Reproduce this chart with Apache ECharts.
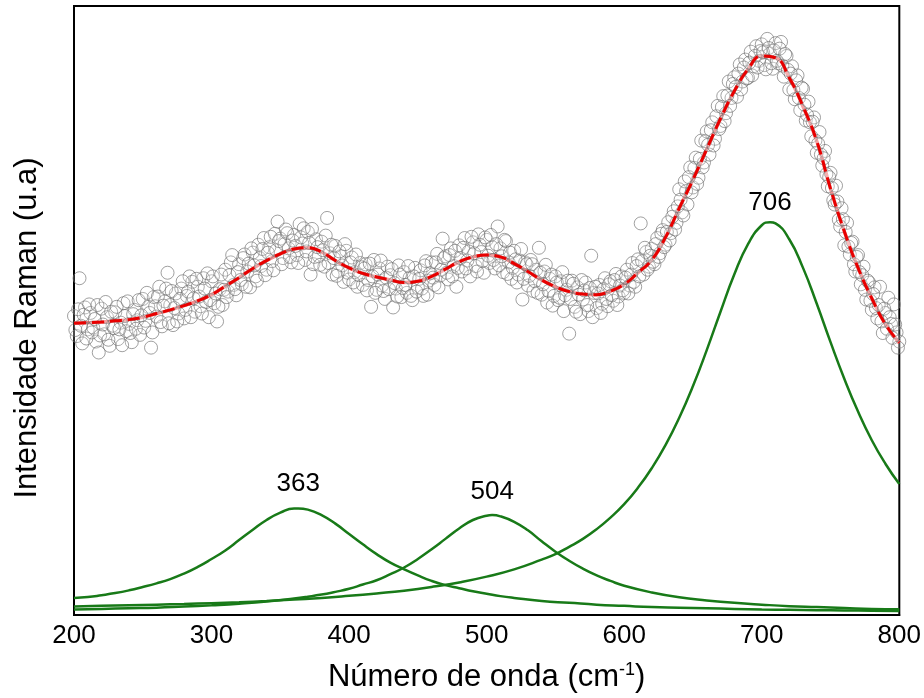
<!DOCTYPE html>
<html>
<head>
<meta charset="utf-8">
<script src="https://cdn.jsdelivr.net/npm/echarts@6/dist/echarts.min.js"></script>
<style>
  html, body { margin: 0; padding: 0; background: #fff; }
  #chart { width: 924px; height: 698px; }
</style>
</head>
<body>
<div id="chart"></div>
<script>
// espectro Raman medido (cm-1, intensidade u.a.) - pontos pares
const ramanPoints = [
  [200,49.1],[202,45.8],[204,55.3],[206,44.6],[208,50.5],[210,46.9],[212,49.6],[214,47.2],[216,44.9],[218,43.1],
  [220,50.3],[222,46.1],[224,48.9],[226,44.2],[228,47.5],[230,49.7],[232,45.3],[234,48.0],[236,51.2],[238,46.6],
  [240,47.8],[242,44.8],[244,50.1],[246,48.4],[248,46.0],[250,51.9],[252,48.3],[254,50.6],[256,43.9],[258,52.2],
  [260,49.0],[262,53.9],[264,47.4],[266,51.5],[268,56.2],[270,50.9],[272,47.6],[274,52.8],[276,49.5],[278,53.6],
  [280,48.7],[282,52.4],[284,55.6],[286,54.7],[288,49.8],[290,53.9],[292,50.7],[294,55.3],[296,51.4],[298,48.9],
  [300,54.8],[302,51.2],[304,48.2],[306,53.5],[308,50.9],[310,56.7],[312,53.1],[314,57.9],[316,54.2],[318,52.5],
  [320,57.6],[322,54.3],[324,59.2],[326,56.4],[328,53.8],[330,59.5],[332,55.6],[334,60.8],[336,57.3],[338,61.9],
  [340,56.7],[342,60.4],[344,58.1],[346,62.6],[348,64.6],[350,61.8],[352,58.6],[354,63.3],[356,60.2],[358,57.9],
  [360,62.4],[362,59.1],[364,64.2],[366,61.0],[368,58.3],[370,62.9],[372,55.9],[374,57.6],[376,61.7],[378,58.9],
  [380,61.3],[382,57.2],[384,65.2],[386,59.4],[388,55.9],[390,60.6],[392,56.4],[394,58.9],[396,54.7],[398,59.8],
  [400,55.1],[402,58.7],[404,56.3],[406,53.9],[408,57.8],[410,54.2],[412,57.6],[414,55.0],[416,50.6],[418,58.3],
  [420,53.4],[422,56.9],[424,54.1],[426,51.9],[428,57.2],[430,55.8],[432,50.5],[434,53.6],[436,57.4],[438,52.2],
  [440,56.3],[442,52.9],[444,55.4],[446,51.7],[448,57.0],[450,53.8],[452,56.6],[454,52.4],[456,58.1],[458,54.9],
  [460,57.9],[462,54.2],[464,59.3],[466,55.7],[468,61.8],[470,58.9],[472,55.1],[474,60.2],[476,57.3],[478,53.9],
  [480,60.7],[482,56.4],[484,61.9],[486,58.2],[488,55.6],[490,61.2],[492,57.3],[494,62.5],[496,59.6],[498,56.2],
  [500,61.6],[502,57.8],[504,60.4],[506,56.9],[508,63.8],[510,60.2],[512,56.3],[514,61.4],[516,57.9],[518,55.2],
  [520,59.8],[522,54.6],[524,58.2],[526,51.8],[528,57.9],[530,54.1],[532,58.3],[534,53.2],[536,56.7],[538,60.3],
  [540,52.6],[542,56.4],[544,51.3],[546,55.2],[548,50.8],[550,55.6],[552,51.7],[554,54.8],[556,49.9],[558,53.4],
  [560,46.2],[562,54.9],[564,50.6],[566,53.8],[568,49.4],[570,51.8],[572,54.6],[574,49.9],[576,59.0],[578,52.9],
  [580,50.4],[582,54.2],[584,51.1],[586,55.3],[588,50.7],[590,54.8],[592,51.6],[594,56.0],[596,52.3],[598,55.6],
  [600,52.9],[602,56.7],[604,54.1],[606,57.8],[608,53.9],[610,58.4],[612,64.3],[614,55.9],[616,59.6],[618,57.2],
  [620,60.1],[622,57.6],[624,61.9],[626,59.4],[628,63.2],[630,60.8],[632,64.5],[634,62.7],[636,66.3],[638,64.4],
  [640,69.9],[642,66.1],[644,71.2],[646,67.4],[648,73.5],[650,70.2],[652,75.1],[654,71.8],[656,77.9],[658,74.3],
  [660,79.4],[662,75.6],[664,80.9],[666,78.2],[668,83.6],[670,80.3],[672,85.2],[674,82.4],[676,87.6],[678,84.9],
  [680,88.3],[682,85.1],[684,90.4],[686,87.6],[688,91.2],[690,88.2],[692,92.5],[694,90.1],[696,93.4],[698,91.0],
  [700,93.7],[702,90.3],[704,94.6],[706,92.2],[708,89.7],[710,93.9],[712,90.6],[714,94.1],[716,88.4],[718,91.8],
  [720,86.3],[722,90.1],[724,84.7],[726,88.6],[728,82.9],[730,86.4],[732,81.2],[734,84.3],[736,78.6],[738,81.7],
  [740,75.9],[742,79.3],[744,73.8],[746,76.2],[748,70.4],[750,72.6],[752,68.1],[754,70.5],[756,64.9],[758,66.8],
  [760,60.7],[762,64.4],[764,59.2],[766,61.3],[768,56.4],[770,59.1],[772,54.3],[774,57.2],[776,51.8],[778,54.6],
  [780,50.1],[782,53.8],[784,48.7],[786,53.9],[788,46.3],[790,49.6],[792,52.1],[794,47.8],[796,51.0],[798,46.4],
  [800,44.9]
]

// pontos ímpares
const ramanPointsOdd = [
  [201,46.8],[203,50.2],[205,47.5],[207,49.3],[209,45.4],[211,51.0],[213,46.4],[215,48.6],[217,50.9],[219,45.9],
  [221,47.7],[223,51.4],[225,45.2],[227,49.8],[229,47.1],[231,50.6],[233,46.9],[235,44.3],[237,49.1],[239,51.5],
  [241,46.3],[243,49.4],[245,47.0],[247,51.7],[249,49.2],[251,47.2],[253,52.9],[255,49.6],[257,46.4],[259,50.7],
  [261,52.3],[263,48.1],[265,50.8],[267,53.6],[269,47.9],[271,53.2],[273,50.4],[275,48.2],[277,51.9],[279,54.8],
  [281,50.1],[283,53.1],[285,48.9],[287,52.0],[289,55.2],[291,52.3],[293,49.5],[295,53.6],[297,56.1],[299,51.7],
  [301,55.6],[303,52.8],[305,50.6],[307,55.9],[309,53.4],[311,52.2],[313,55.8],[315,59.1],[317,53.5],[319,56.3],
  [321,55.0],[323,58.6],[325,53.9],[327,57.7],[329,60.2],[331,57.4],[333,54.9],[335,58.6],[337,60.1],[339,55.8],
  [341,59.5],[343,62.1],[345,56.6],[347,59.9],[349,61.4],[351,57.6],[353,60.9],[355,62.7],[357,58.8],[359,61.5],
  [361,60.6],[363,57.8],[365,62.0],[367,63.5],[369,59.7],[371,61.1],[373,63.4],[375,58.8],[377,60.4],[379,57.5],
  [381,59.9],[383,62.3],[385,57.8],[387,60.8],[389,58.6],[391,55.7],[393,59.7],[395,57.4],[397,60.9],[399,56.2],
  [401,57.9],[403,54.6],[405,59.2],[407,55.8],[409,57.1],[411,56.9],[413,53.3],[415,57.7],[417,55.6],[419,52.9],
  [421,55.9],[423,58.2],[425,53.2],[427,55.4],[429,53.5],[431,56.8],[433,54.5],[435,52.3],[437,55.9],[439,53.7],
  [441,54.2],[443,57.3],[445,52.4],[447,55.6],[449,53.1],[451,55.2],[453,53.6],[455,57.4],[457,52.6],[459,56.1],
  [461,55.4],[463,57.9],[465,53.8],[467,56.7],[469,58.6],[471,56.2],[473,59.1],[475,55.6],[477,59.8],[479,57.0],
  [481,58.6],[483,60.3],[485,56.9],[487,59.7],[489,62.1],[491,59.4],[493,56.4],[495,60.8],[497,58.1],[499,62.0],
  [501,59.0],[503,62.4],[505,58.3],[507,60.9],[509,57.4],[511,58.9],[513,61.6],[515,56.0],[517,59.5],[519,57.0],
  [521,58.4],[523,55.9],[525,60.1],[527,55.2],[529,57.6],[531,55.7],[533,57.6],[535,54.8],[537,52.9],[539,56.2],
  [541,54.3],[543,57.5],[545,53.2],[547,55.9],[549,52.4],[551,54.6],[553,52.1],[555,56.3],[557,52.5],[559,54.9],
  [561,51.9],[563,54.4],[565,49.8],[567,52.6],[569,55.0],[571,53.3],[573,50.9],[575,53.7],[577,48.9],[579,53.9],
  [581,52.8],[583,49.6],[585,53.5],[587,51.9],[589,54.3],[591,52.5],[593,55.0],[595,50.9],[597,54.1],[599,53.3],
  [601,55.4],[603,52.8],[605,55.9],[607,54.7],[609,57.3],[611,55.6],[613,58.1],[615,60.3],[617,56.7],[619,59.0],
  [621,58.0],[623,60.9],[625,58.8],[627,62.6],[629,60.4],[631,62.9],[633,61.5],[635,65.4],[637,63.3],[639,67.1],
  [641,68.2],[643,65.6],[645,69.6],[647,71.9],[649,69.4],[651,73.4],[653,70.8],[655,74.9],[657,73.5],[659,77.8],
  [661,77.2],[663,79.6],[665,77.1],[667,81.9],[669,79.8],[671,83.4],[673,81.1],[675,85.3],[677,83.6],[679,87.2],
  [681,86.7],[683,88.9],[685,86.3],[687,89.9],[689,88.1],[691,90.7],[693,88.6],[695,91.8],[697,89.9],[699,92.6],
  [701,92.4],[703,89.6],[705,93.1],[707,90.6],[709,92.7],[711,91.0],[713,93.0],[715,90.2],[717,92.1],[719,89.5],
  [721,88.9],[723,86.2],[725,87.8],[727,84.9],[729,86.6],[731,83.8],[733,82.1],[735,80.9],[737,81.0],[739,77.9],
  [741,77.4],[743,75.6],[745,75.0],[747,72.4],[749,71.9],[751,70.1],[753,67.4],[755,67.9],[757,63.8],[759,65.0],
  [761,62.9],[763,60.5],[765,61.1],[767,57.6],[769,58.8],[771,56.3],[773,55.8],[775,53.4],[777,54.9],[779,51.6],
  [781,52.7],[783,50.4],[785,50.9],[787,48.2],[789,50.3],[791,47.0],[793,48.9],[795,45.5],[797,47.7],[799,43.9]
]

// curva de ajuste (soma)
const fitCurve = [
  [200,47.9],[210,48.0],[220,48.1],[230,48.3],[240,48.5],[250,48.9],[260,49.5],[270,50.1],[280,50.8],[290,51.6],
  [300,52.6],[310,54.0],[320,55.4],[330,56.9],[340,58.2],[350,59.3],[360,60.1],[370,60.3],[380,59.6],[390,58.2],
  [400,57.0],[410,56.1],[420,55.5],[430,55.0],[440,54.6],[450,54.8],[460,55.6],[470,56.8],[480,58.0],[490,58.8],
  [500,59.1],[510,58.8],[520,57.7],[530,56.4],[540,55.0],[550,53.9],[560,53.1],[570,52.7],[580,52.6],[590,53.2],
  [600,54.3],[610,56.2],[620,58.3],[630,62.0],[640,66.8],[650,71.5],[660,76.5],[670,81.5],[680,86.0],[690,89.6],
  [700,91.8],[710,91.5],[720,88.2],[730,83.5],[740,77.8],[750,70.0],[760,63.0],[770,57.0],[780,52.0],[790,47.7],
  [800,44.7]
]

// componentes
const peak363 = [
  [200,2.8],[210,2.95],[220,3.25],[230,3.6],[240,4.05],[250,4.6],[260,5.2],[270,5.9],[280,6.8],[290,7.9],
  [300,9.2],[310,10.6],[320,12.3],[330,14.0],[340,15.6],[350,16.8],[360,17.5],[363,17.5],[370,17.3],[380,16.4],
  [390,15.0],[400,13.3],[410,11.6],[420,10.0],[430,8.6],[440,7.5],[450,6.5],[460,5.6],[470,4.9],[480,4.4],
  [490,3.9],[500,3.5],[510,3.1],[520,2.8],[540,2.3],[560,2.0],[580,1.7],[600,1.5],[620,1.3],[640,1.2],
  [660,1.1],[680,1.0],[700,0.9],[720,0.85],[740,0.8],[760,0.75],[780,0.7],[800,0.67]
]
const peak504 = [
  [200,0.9],[220,1.0],[240,1.1],[260,1.2],[280,1.4],[300,1.6],[320,1.85],[340,2.2],[360,2.7],[370,3.0],
  [380,3.35],[390,3.8],[400,4.3],[410,5.0],[420,5.7],[430,6.7],[440,7.8],[450,9.2],[460,10.8],[470,12.5],
  [480,14.2],[490,15.6],[500,16.3],[504,16.4],[510,16.2],[520,15.3],[530,13.9],[540,12.1],[550,10.4],[560,8.9],
  [570,7.6],[580,6.5],[590,5.6],[600,4.8],[620,3.7],[640,2.9],[660,2.4],[680,2.0],[700,1.7],[720,1.45],
  [740,1.3],[760,1.15],[780,1.0],[800,0.95]
]
const peak706 = [
  [200,1.4],[220,1.5],[240,1.6],[260,1.7],[280,1.8],[300,1.95],[320,2.1],[340,2.3],[360,2.55],[380,2.8],
  [400,3.15],[420,3.55],[440,4.0],[460,4.6],[480,5.35],[500,6.3],[520,7.5],[540,9.1],[550,10.0],[560,11.2],
  [570,12.5],[580,14.1],[590,16.0],[600,18.2],[610,20.9],[620,24.1],[630,27.9],[640,32.4],[650,37.6],[660,43.5],
  [670,49.8],[680,55.9],[690,60.9],[700,64.0],[706,64.5],[710,64.3],[720,61.7],[730,57.0],[740,51.1],[750,44.8],
  [760,38.8],[770,33.4],[780,28.7],[790,24.8],[800,21.5]
]

const peakCenters = [363, 504, 706]
const peakHeights = [17.5, 16.4, 64.5]

const FONT = 'Liberation Sans, Arial, sans-serif'
const GREEN = '#187a18'

function greenLine(data) {
  return {
    type: 'line',
    data: data,
    smooth: true,
    showSymbol: false,
    silent: true,
    lineStyle: { color: GREEN, width: 2.5 },
    z: 4
  }
}

function fitLine(style, z) {
  return {
    type: 'line',
    data: fitCurve,
    smooth: true,
    showSymbol: false,
    silent: true,
    lineStyle: style,
    z: z
  }
}

const labelGaps = [12, 10, 6]

const chart = echarts.init(document.getElementById('chart'))
chart.setOption({
  animation: false,
  backgroundColor: '#fff',
  grid: { left: 74, right: 23, top: 6, bottom: 83, show: true, borderColor: '#000', borderWidth: 2 },
  xAxis: {
    type: 'value',
    min: 200,
    max: 800,
    interval: 100,
    axisLine: { lineStyle: { color: '#000', width: 2 } },
    axisTick: { show: false },
    splitLine: { show: false },
    axisLabel: { color: '#000', fontSize: 26, fontFamily: FONT, margin: 8 },
    name: '{t|Número de onda (cm}{s|-1}{t|)}',
    nameLocation: 'middle',
    nameGap: 46,
    nameTextStyle: {
      rich: {
        t: { fontSize: 31, fontFamily: FONT, color: '#000' },
        s: { fontSize: 18, fontFamily: FONT, color: '#000', padding: [0, 0, 15, 0] }
      }
    }
  },
  yAxis: {
    type: 'value',
    min: 0,
    max: 100,
    axisLine: { show: true, lineStyle: { color: '#000', width: 2 } },
    axisTick: { show: false },
    axisLabel: { show: false },
    splitLine: { show: false }
  },
  graphic: [{
    type: 'text',
    x: 27,
    y: 328,
    rotation: Math.PI / 2,
    style: {
      text: 'Intensidade Raman (u.a)',
      fontSize: 31,
      fontFamily: FONT,
      fill: '#000',
      align: 'center',
      verticalAlign: 'middle'
    }
  }],
  series: [
    // faixa rosa por baixo dos círculos + traço vermelho por cima
    fitLine({ color: '#f07a7a', width: 3.5 }, 1),
    {
      type: 'scatter',
      data: ramanPoints.concat(ramanPointsOdd),
      symbol: 'circle',
      symbolSize: 13,
      silent: true,
      itemStyle: { color: 'rgba(255,255,255,0.2)', borderColor: '#6a6a6a', borderWidth: 0.8 },
      z: 2
    },
    fitLine({ color: '#e80000', width: 3, type: [12, 6] }, 3),
    greenLine(peak363),
    greenLine(peak504),
    greenLine(peak706),
    {
      type: 'scatter',
      symbolSize: 0,
      silent: true,
      itemStyle: { color: '#000', opacity: 1 },
      data: peakCenters.map((c, i) => ({
        value: [c, peakHeights[i]],
        label: { distance: labelGaps[i] }
      })),
      label: {
        show: true,
        position: 'top',
        color: '#000',
        opacity: 1,
        fontSize: 26,
        fontFamily: FONT,
        formatter: p => String(p.value[0])
      },
      z: 5
    }
  ]
})
</script>
</body>
</html>
